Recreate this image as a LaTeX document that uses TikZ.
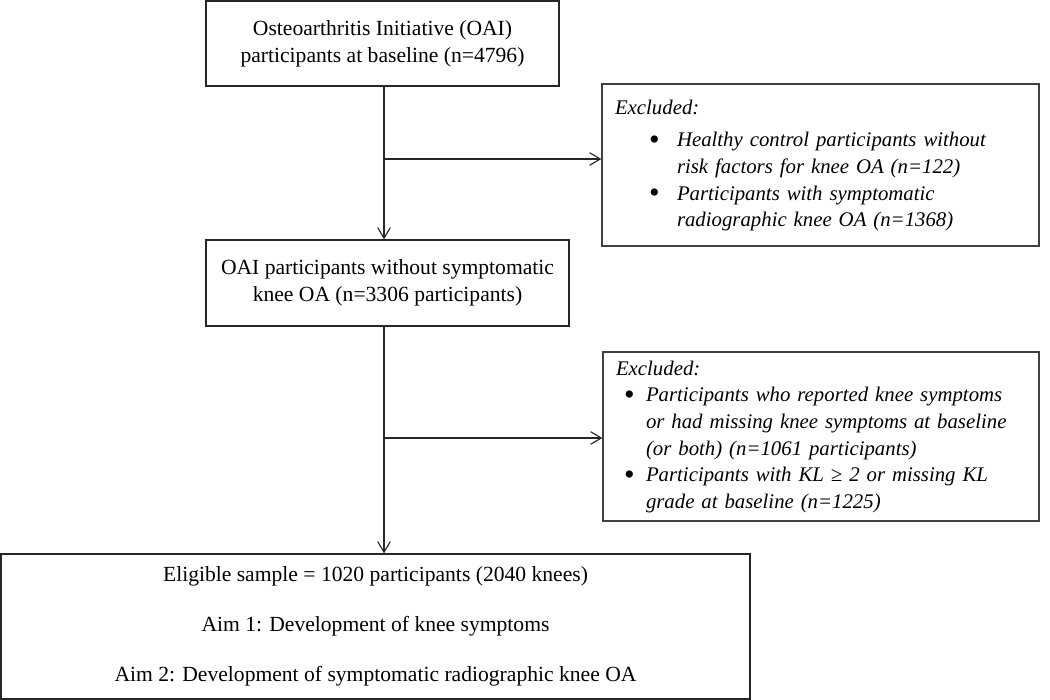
\documentclass[tikz,border=0pt]{standalone}
\usepackage{fontspec}
\setmainfont{Liberation Serif}
\usetikzlibrary{arrows.meta}
\newcommand{\bigbul}{\raisebox{-2.2pt}{\scalebox{1.45}{\upshape\textbullet}}}
\begin{document}
\begin{tikzpicture}[x=0.75pt,y=-0.75pt,
  box/.style={draw=black!85, line width=1pt, inner sep=0pt, align=center,
    font=\fontsize{16.2}{20.25}\selectfont},
  exbox/.style={draw=black!75, line width=1pt, inner xsep=9.75pt, inner ysep=0pt,
    text width=#1, align=left, font=\fontsize{15.6}{20}\selectfont\itshape},
  arr/.style={draw=black!85, line width=0.85pt, -{Straight Barb[length=8pt,width=9.5pt,line width=0.85pt]}}
]
\useasboundingbox (0,0) rectangle (1050,700);

\node[box, minimum width=264.75pt, minimum height=63.75pt] (oai) at (382.5,43.5)
  {Osteoarthritis Initiative (OAI)\\participants at baseline (n=4796)};

\node[box, minimum width=272.25pt, minimum height=64.5pt] (nosym) at (387.5,283)
  {OAI participants without symptomatic\\knee OA (n=3306 participants)};

\node[exbox=308.25pt, minimum height=121.5pt] (ex1) at (820.5,165)
  {\noindent\begin{tabular}{@{}p{25.5pt}@{}p{21pt}@{}l@{}}
   \multicolumn{3}{@{}l@{}}{Excluded:}\\[4.5pt]
   & \bigbul & Healthy control participants without\\
   & & risk factors for knee OA (n=122)\\
   & \bigbul & Participants with symptomatic\\
   & & radiographic knee OA (n=1368)
  \end{tabular}};

\node[exbox=307.5pt, minimum height=126.75pt] (ex2) at (821,436.5)
  {\noindent\begin{tabular}{@{}p{6pt}@{}p{16.5pt}@{}l@{}}
   \multicolumn{3}{@{}l@{}}{Excluded:}\\
   & \bigbul & Participants who reported knee symptoms\\
   & & or had missing knee symptoms at baseline\\
   & & (or both) (n=1061 participants)\\
   & \bigbul & Participants with KL ≥ 2 or missing KL\\
   & & grade at baseline (n=1225)
  \end{tabular}};

\node[box, minimum width=561.75pt, minimum height=108.75pt,
  font=\fontsize{16.2}{37.5}\selectfont] (elig) at (375.5,626.5)
  {Eligible sample = 1020 participants (2040 knees)\\
   Aim 1: Development of knee symptoms\\
   Aim 2: Development of symptomatic radiographic knee OA};

\coordinate (ax) at (384,0);
\coordinate (b1) at (384,159);
\coordinate (b2) at (384,438);

\draw[arr] (ax |- oai.south) -- (ax |- nosym.north);
\draw[arr] (ax |- nosym.south) -- (ax |- elig.north);
\draw[arr] (b1) -- (b1 -| ex1.west);
\draw[arr] (b2) -- (b2 -| ex2.west);
\end{tikzpicture}
\end{document}
